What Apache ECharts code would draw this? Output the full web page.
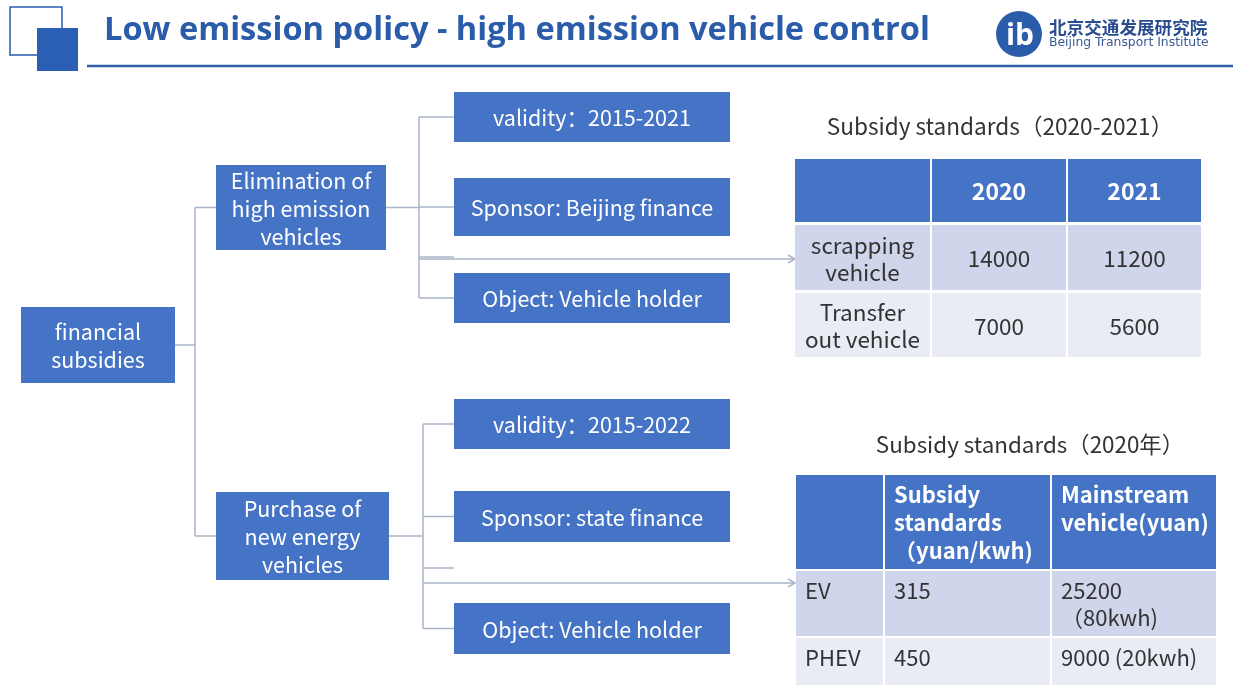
<!DOCTYPE html>
<html>
<head>
<meta charset="utf-8">
<script src="https://cdn.jsdelivr.net/npm/echarts@6/dist/echarts.min.js"></script>
<style>
  html, body { margin: 0; padding: 0; background: #fff; }
  #chart { width: 1233px; height: 685px; }
</style>
</head>
<body>
<div id="chart"></div>
<script>
// ---- data ----
const pageTitle = 'Low emission policy - high emission vehicle control';
const orgNameCn = '北京交通发展研究院';
const orgNameEn = 'Beijing Transport Institute';

const rootLabel = 'financial\nsubsidies';
const branchLabels = ['Elimination of\nhigh emission\nvehicles', 'Purchase of\nnew energy\nvehicles'];
const leafLabels = [
  ['validity：2015-2021', 'Sponsor: Beijing finance', 'Object: Vehicle holder'],
  ['validity：2015-2022', 'Sponsor: state finance', 'Object: Vehicle holder']
];

const scrapTitle = 'Subsidy standards（2020-2021）';
const scrapYears = ['2020', '2021'];
const scrapTypes = ['scrapping\nvehicle', 'Transfer\nout vehicle'];
const scrapValues = [[14000, 11200], [7000, 5600]];

const nevTitle = 'Subsidy standards（2020年）';
const nevHeaders = ['Subsidy\nstandards\n（yuan/kwh)', 'Mainstream\nvehicle(yuan)'];
const nevTypes = ['EV', 'PHEV'];
const nevRates = [315, 450];
const nevVehicle = ['25200\n（80kwh)', '9000 (20kwh)'];

// ---- layout / style ----
const BLUE = '#4573c5';
const DARK = '#2a5caa';
const LINE = '#aab5ca';
const FONT = '"Noto Sans CJK SC", "Noto Sans", sans-serif';
const TITLE_FONT = '"Open Sans", "Noto Sans", sans-serif';

const rootBox = { x: 21, y: 307, w: 154, h: 76 };
const branchBoxes = [{ x: 216, y: 165, w: 170, h: 85 }, { x: 216, y: 492, w: 173, h: 88 }];
const leafX = 454, leafW = 276;
const leafRows = [
  [{ y: 92, h: 50 }, { y: 178, h: 58 }, { y: 273, h: 50 }],
  [{ y: 399, h: 50 }, { y: 491, h: 51 }, { y: 603, h: 51 }]
];
const rootSpineX = 195;
const branchSpineX = [419, 423];
const stubY = [257, 568];
const arrowY = [259, 583];
const arrowEndX = 795;

const t1Cols = [795, 931, 1067, 1202];
const t1Rows = [[159, 222], [225, 290], [293, 357]];
const t2Cols = [796, 884, 1051, 1217];
const t2Rows = [[475, 569], [571, 636], [638, 692]];
const rowFill = [BLUE, '#cfd5ea', '#e9ebf5'];

const g = [];

function txt(x, y, text, o) {
  o = o || {};
  const align = o.align || 'center';
  const va = o.va || 'middle';
  g.push({
    type: 'text', x: x, y: y, z: 10,
    style: {
      text: text, fill: o.fill || '#fff',
      font: (o.weight || 'normal') + ' ' + (o.size || 21.5) + 'px ' + (o.family || FONT),
      align: align, textAlign: align, verticalAlign: va, textVerticalAlign: va,
      lineHeight: o.lh || 28
    }
  });
}
function rect(x, y, w, h, fill) {
  g.push({ type: 'rect', shape: { x: x, y: y, width: w, height: h }, style: { fill: fill }, z: 5 });
}
function box(b, label) {
  rect(b.x, b.y, b.w, b.h, BLUE);
  txt(b.x + b.w / 2, b.y + b.h / 2 + 1, label);
}
function line(x1, y1, x2, y2) {
  g.push({ type: 'line', shape: { x1: x1, y1: y1, x2: x2, y2: y2 }, style: { stroke: LINE, lineWidth: 1.5 }, z: 3 });
}
function arrow(x1, x2, y) {
  line(x1, y, x2, y);
  g.push({ type: 'polyline', shape: { points: [[x2 - 7, y - 4], [x2, y], [x2 - 7, y + 4]] },
    style: { stroke: LINE, lineWidth: 1.5, fill: null }, z: 3 });
}

// ---- header ----
g.push({ type: 'rect', shape: { x: 10, y: 7, width: 52, height: 48 }, style: { fill: '#fff', stroke: DARK, lineWidth: 1.5 }, z: 1 });
g.push({ type: 'rect', shape: { x: 37, y: 28, width: 41, height: 43 }, style: { fill: '#2b5fb5' }, z: 2 });
txt(104, 31, pageTitle, { align: 'left', fill: DARK, weight: 'bold', size: 32.6, family: TITLE_FONT, lh: 38 });
g.push({ type: 'line', shape: { x1: 87, y1: 66, x2: 1233, y2: 66 }, style: { stroke: '#2e5fa8', lineWidth: 2.5 }, z: 2 });
g.push({ type: 'circle', shape: { cx: 1019, cy: 34, r: 23 }, style: { fill: DARK }, z: 2 });
txt(1020, 36, 'ib', { weight: 'bold', size: 30, family: TITLE_FONT, fill: '#fff', lh: 30 });
txt(1049, 27, orgNameCn, { align: 'left', fill: '#2a4d8f', weight: 'bold', size: 17.6, lh: 20 });
txt(1049, 43, orgNameEn, { align: 'left', fill: '#3a5a95', size: 12.4, lh: 14, family: '"DejaVu Sans", sans-serif' });

// ---- tree ----
box(rootBox, rootLabel);
const rootMidY = rootBox.y + rootBox.h / 2;
line(rootBox.x + rootBox.w, rootMidY, rootSpineX, rootMidY);
const branchMid = branchBoxes.map(b => b.y + b.h / 2);
line(rootSpineX, branchMid[0], rootSpineX, branchMid[1]);

branchBoxes.forEach((b, i) => {
  box(b, branchLabels[i]);
  line(rootSpineX, branchMid[i], b.x, branchMid[i]);
  const sx = branchSpineX[i];
  line(b.x + b.w, branchMid[i], sx, branchMid[i]);
  const mids = leafRows[i].map(r => r.y + r.h / 2);
  line(sx, mids[0], sx, mids[mids.length - 1]);
  leafRows[i].forEach((r, j) => {
    box({ x: leafX, y: r.y, w: leafW, h: r.h }, leafLabels[i][j]);
    line(sx, mids[j], leafX, mids[j]);
  });
  line(sx, stubY[i], leafX, stubY[i]);
  arrow(sx, arrowEndX, arrowY[i]);
});

// ---- table 1: scrapping subsidy ----
txt(1000, 126, scrapTitle, { fill: '#333', size: 22.6 });
const t1Cells = [[''].concat(scrapYears)].concat(scrapTypes.map((t, i) => [t].concat(scrapValues[i].map(String))));
t1Cells.forEach((row, r) => {
  row.forEach((cell, c) => {
    const x0 = t1Cols[c] + (c ? 1 : 0), x1 = t1Cols[c + 1] - 1;
    const y0 = t1Rows[r][0], y1 = t1Rows[r][1];
    rect(x0, y0, x1 - x0, y1 - y0, rowFill[r]);
    if (cell) {
      txt((x0 + x1) / 2, (y0 + y1) / 2 + 1, cell, r === 0
        ? { weight: 'bold', size: 23 }
        : { fill: '#333', size: 22.5, lh: 27 });
    }
  });
});

// ---- table 2: new energy vehicle subsidy ----
txt(1030, 444, nevTitle, { fill: '#333', size: 22.4 });
const t2Cells = [[''].concat(nevHeaders)].concat(nevTypes.map((t, i) => [t, String(nevRates[i]), nevVehicle[i]]));
t2Cells.forEach((row, r) => {
  row.forEach((cell, c) => {
    const x0 = t2Cols[c] + (c ? 1 : 0), x1 = t2Cols[c + 1] - 1;
    const y0 = t2Rows[r][0], y1 = t2Rows[r][1];
    rect(x0, y0, x1 - x0, y1 - y0, rowFill[r]);
    if (cell) {
      txt(x0 + 9, y0 + 6, cell, r === 0
        ? { align: 'left', va: 'top', weight: 'bold', size: 22 }
        : { align: 'left', va: 'top', fill: '#333', size: 22, lh: 27 });
    }
  });
});

const chart = echarts.init(document.getElementById('chart'));
chart.setOption({
  backgroundColor: '#fff',
  animation: false,
  graphic: { elements: g }
});
window.addEventListener('resize', () => chart.resize());
</script>
</body>
</html>
